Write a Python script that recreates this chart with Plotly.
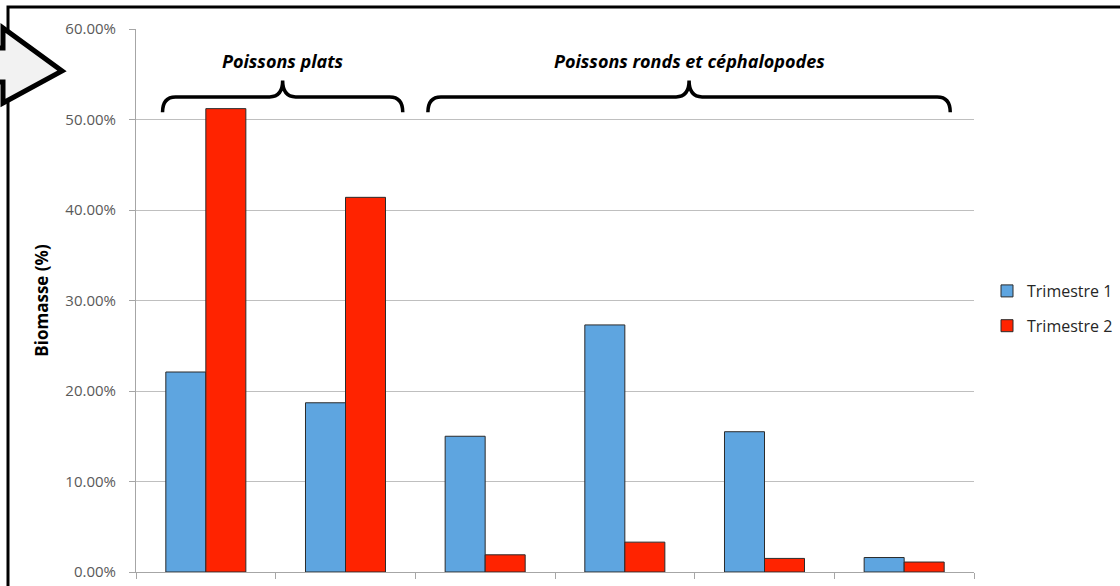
import plotly.graph_objects as go

# Biomass share per species group, two quarters
categories = ["Esp. 1", "Esp. 2", "Esp. 3", "Esp. 4", "Esp. 5", "Esp. 6"]
trimestre_1 = [0.221, 0.187, 0.150, 0.273, 0.155, 0.016]
trimestre_2 = [0.512, 0.414, 0.019, 0.033, 0.015, 0.011]
series_names = ["Trimestre 1", "Trimestre 2"]
y_ticks = [0.0, 0.1, 0.2, 0.3, 0.4, 0.5, 0.6]

# Group labels with brace extents in category units
group_labels = ["Poissons plats", "Poissons ronds et céphalopodes"]
group_spans = [(-0.31, 1.41), (1.59, 5.33)]

W, H = 1120, 586
L, R, T, B = 136, 146, 29, 14
PW, PH = W - L - R, H - T - B
Y_MAX = 0.6
N = len(categories)


def xp(idx):
    """category index -> paper x"""
    return (idx + 0.5) / N


def yp(v):
    """value -> paper y"""
    return v / Y_MAX


def px_x(p):
    return (p - L) / PW


def px_y(p):
    return (H - B - p) / PH


BLUE = "#5EA5E0"
RED = "#FF2300"

fig = go.Figure()
fig.add_trace(go.Bar(x=categories, y=trimestre_1, name=series_names[0],
                     marker=dict(color=BLUE, line=dict(color="#2b2b2b", width=1)),
                     legendgroup="t1"))
fig.add_trace(go.Bar(x=categories, y=trimestre_2, name=series_names[1],
                     marker=dict(color=RED, line=dict(color="#2b2b2b", width=1)),
                     legendgroup="t2"))

shapes = []
annotations = []

# curly braces over the two species groups
yb, yh, yt = 0.508, 0.525, 0.543
r = 13 / PW
for (a, b), label in zip(group_spans, group_labels):
    x0, x1 = xp(a), xp(b)
    xm = (x0 + x1) / 2
    Yb, Yh, Yt = yp(yb), yp(yh), yp(yt)
    path = (f"M {x0},{Yb} Q {x0},{Yh} {x0 + r},{Yh} L {xm - r},{Yh} "
            f"Q {xm},{Yh} {xm},{Yt} Q {xm},{Yh} {xm + r},{Yh} "
            f"L {x1 - r},{Yh} Q {x1},{Yh} {x1},{Yb}")
    shapes.append(dict(type="path", xref="paper", yref="paper", path=path,
                       line=dict(color="black", width=3.5)))
    annotations.append(dict(xref="paper", yref="paper", x=xm, y=yp(0.565),
                            text=f"<b><i>{label}</i></b>", showarrow=False,
                            font=dict(family="Open Sans", size=18, color="black"),
                            xanchor="center", yanchor="middle"))

# outer frame
shapes.append(dict(type="rect", xref="paper", yref="paper",
                   x0=px_x(8), x1=px_x(1200), y0=px_y(650), y1=px_y(7),
                   line=dict(color="black", width=3), fillcolor="rgba(0,0,0,0)",
                   layer="above"))

# navigation arrow at top-left
arrow = [(-20, 48), (3, 48), (3, 28), (62, 71), (3, 103), (3, 82), (-20, 82)]
apath = "M " + " L ".join(f"{px_x(a)},{px_y(b)}" for a, b in arrow) + " Z"
shapes.append(dict(type="path", xref="paper", yref="paper", path=apath,
                   fillcolor="#F2F2F2", line=dict(color="black", width=5),
                   layer="above"))

fig.update_layout(
    width=W, height=H,
    margin=dict(l=L, r=R, t=T, b=B, pad=0, autoexpand=False),
    paper_bgcolor="white", plot_bgcolor="white",
    barmode="group", bargap=0.427, bargroupgap=0,
    font=dict(family="Open Sans", color="#404040"),
    showlegend=True,
    legend=dict(x=px_x(987), y=px_y(274), xanchor="left", yanchor="top",
                font=dict(size=16, color="#262626"), tracegroupgap=11,
                bgcolor="rgba(0,0,0,0)", itemwidth=30),
    shapes=shapes,
    annotations=annotations,
)

fig.update_xaxes(
    type="category", range=[-0.5, N - 0.5], automargin=False,
    showticklabels=False, showgrid=False,
    showline=True, linecolor="#A6A6A6", linewidth=1,
    ticks="outside", tickson="boundaries", ticklen=6, tickcolor="#A6A6A6",
)
fig.update_yaxes(
    range=[0, Y_MAX], tickvals=y_ticks, tickformat=".2%", automargin=False,
    showgrid=True, gridcolor="#BFBFBF", gridwidth=1,
    showline=True, linecolor="#A6A6A6", linewidth=1,
    ticks="outside", ticklen=6, tickcolor="#A6A6A6",
    tickfont=dict(size=15, color="#595959"),
    ticklabelstandoff=10,
    zeroline=False,
    title=dict(text="<b>Biomasse (%)</b>", font=dict(size=17, color="black"),
               standoff=12),
)

fig.write_html(
    "out.html",
    post_script="document.body.style.margin='0';document.body.style.overflow='hidden';",
)
